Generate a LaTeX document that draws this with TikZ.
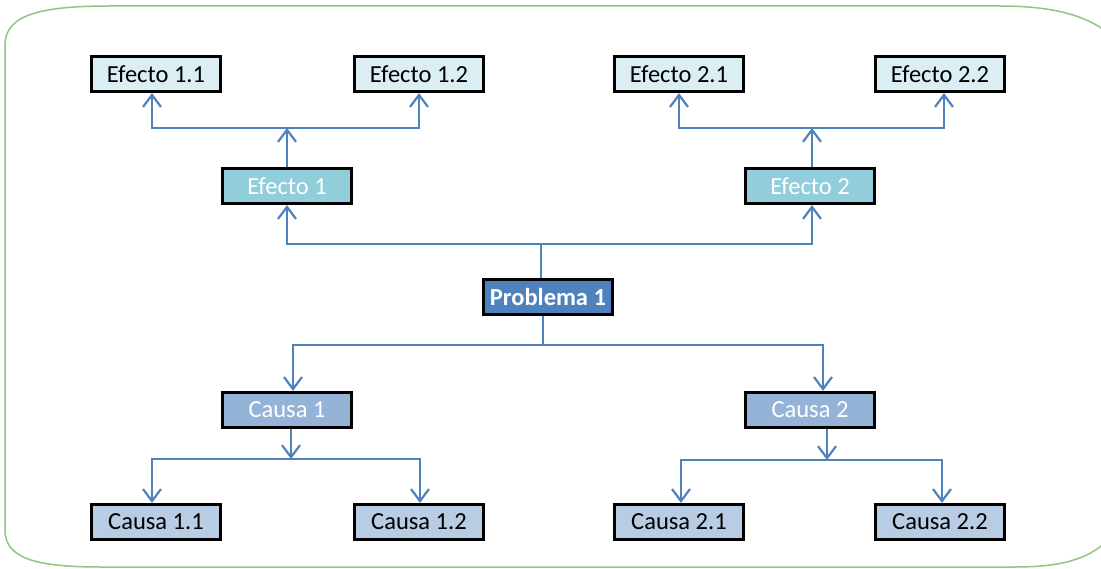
\documentclass[tikz,border=0pt]{standalone}
\usepackage{fontspec}
\setmainfont{Carlito}
\usetikzlibrary{arrows.meta}
\definecolor{frameg}{HTML}{8CC97A}
\definecolor{linkb}{HTML}{4F81BD}
\definecolor{leafE}{HTML}{DAEEF3}
\definecolor{midE}{HTML}{92CDDC}
\definecolor{probl}{HTML}{4F81BD}
\definecolor{midC}{HTML}{95B3D7}
\definecolor{leafC}{HTML}{B8CCE4}
\tikzset{
  box/.style={draw=black, line width=3.2pt, minimum width=129pt, minimum height=35pt,
    inner sep=0pt, font=\fontsize{24.5}{27}\selectfont},
  leafe/.style={box, fill=leafE, text=black},
  mide/.style={box, fill=midE, text=white},
  probbox/.style={box, fill=probl, text=white, font=\fontsize{24.5}{27}\selectfont\bfseries},
  midc/.style={box, fill=midC, text=white},
  leafc/.style={box, fill=leafC, text=black},
  conn/.style={draw=linkb, line width=2.5pt},
  arr/.style={conn, -{Straight Barb[length=12pt, width=18pt, line width=2.2pt]}},
}
\begin{document}
\begin{tikzpicture}[x=1pt, y=-1pt]
\useasboundingbox (0,0) rectangle (1101,569);
% outer frame
\begin{scope}
\clip (0,0) rectangle (1101,569);
\draw[frameg, line width=1.5pt]
  (5,45) .. controls (5,15) and (40,6) .. (110,6)
  -- (1000,6) .. controls (1060,6) and (1095,18) .. (1118,42)
  -- (1118,528) .. controls (1098,556) and (1070,567) .. (1015,567)
  -- (100,567) .. controls (35,567) and (5,558) .. (5,530) -- cycle;
\end{scope}

% boxes
\node[leafe] (e11) at (156,74) {Efecto 1.1};
\node[leafe] (e12) at (419,74) {Efecto 1.2};
\node[leafe] (e21) at (679,74) {Efecto 2.1};
\node[leafe] (e22) at (940,74) {Efecto 2.2};
\node[mide] (e1) at (287,186) {Efecto 1};
\node[mide] (e2) at (810,186) {Efecto 2};
\node[probbox] (p) at (548,297) {Problema 1};
\node[midc] (c1) at (287,410) {Causa 1};
\node[midc] (c2) at (810,410) {Causa 2};
\node[leafc] (c11) at (156,522) {Causa 1.1};
\node[leafc] (c12) at (419,522) {Causa 1.2};
\node[leafc] (c21) at (679,522) {Causa 2.1};
\node[leafc] (c22) at (940,522) {Causa 2.2};

% junction points
\coordinate (jp) at (541,244);
\coordinate (jc) at (543,345);
\coordinate (je1) at (287,128);
\coordinate (je2) at (812,128);
\coordinate (jc1) at (291,459);
\coordinate (jc2) at (827,460);

% problem to effects
\draw[conn] ([xshift=-7pt]p.north) -- (jp);
\draw[arr] (jp) -| (e1.south);
\draw[arr] (jp) -| ([xshift=2pt]e2.south);
% problem to causes
\draw[conn] ([xshift=-5pt]p.south) -- (jc);
\draw[arr] (jc) -| ([xshift=6pt]c1.north);
\draw[arr] (jc) -| ([xshift=13pt]c2.north);
% effect 1 branch
\draw[arr] (e1.north) -- (je1);
\draw[arr] (je1) -| ([xshift=-4pt]e11.south);
\draw[arr] (je1) -| (e12.south);
% effect 2 branch
\draw[arr] ([xshift=2pt]e2.north) -- (je2);
\draw[arr] (je2) -| (e21.south);
\draw[arr] (je2) -| ([xshift=4pt]e22.south);
% cause 1 branch
\draw[arr] ([xshift=4pt]c1.south) -- (jc1);
\draw[arr] (jc1) -| ([xshift=-4pt]c11.north);
\draw[arr] (jc1) -| ([xshift=1pt]c12.north);
% cause 2 branch
\draw[arr] ([xshift=17pt]c2.south) -- (jc2);
\draw[arr] (jc2) -| ([xshift=2pt]c21.north);
\draw[arr] (jc2) -| ([xshift=2pt]c22.north);
\end{tikzpicture}
\end{document}
